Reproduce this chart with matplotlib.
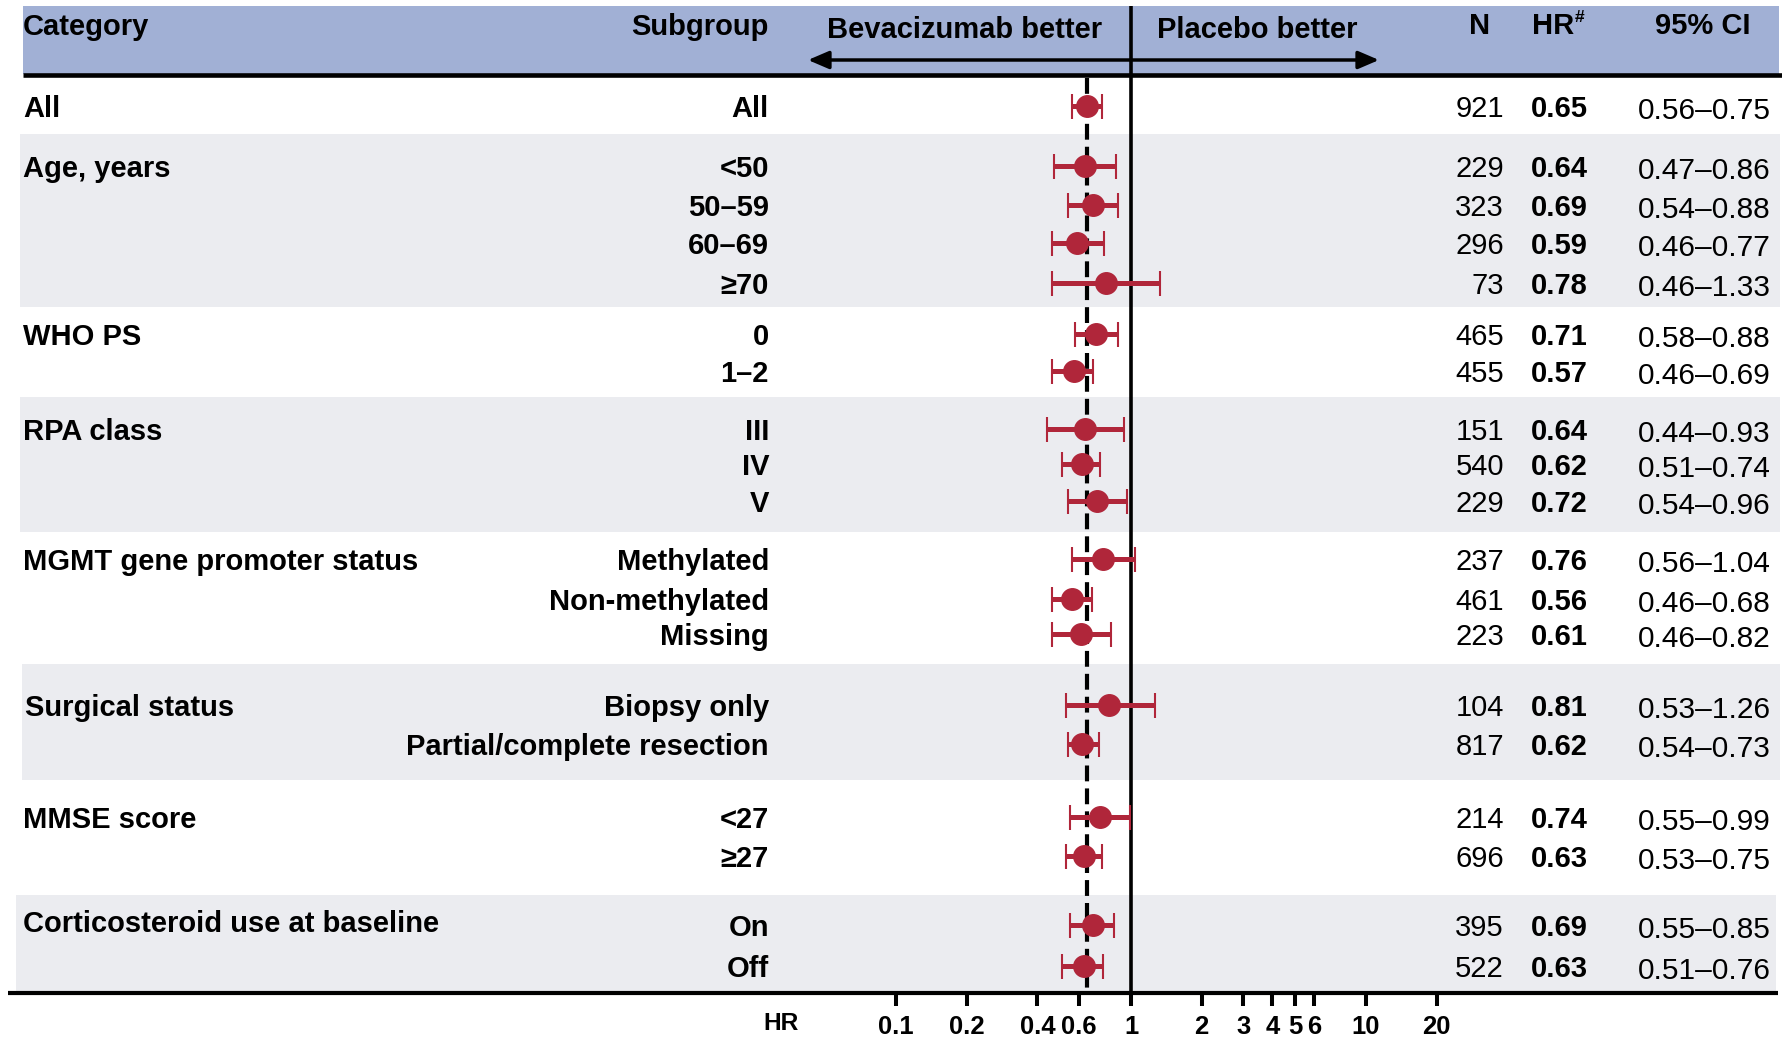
import matplotlib
matplotlib.use('Agg')

import numpy as np
from matplotlib import pyplot as plt
from matplotlib import font_manager
from matplotlib.patches import Rectangle

# subgroup results (hazard ratio with 95% CI)
categories = ['All', 'Age, years', 'WHO PS', 'RPA class', 'MGMT gene promoter status',
              'Surgical status', 'MMSE score', 'Corticosteroid use at baseline']
group_sizes = [1, 4, 2, 3, 3, 2, 2, 2]
subgroups = ['All', '<50', '50–59', '60–69', '≥70', '0', '1–2', 'III', 'IV', 'V',
             'Methylated', 'Non-methylated', 'Missing', 'Biopsy only',
             'Partial/complete resection', '<27', '≥27', 'On', 'Off']
n_patients = [921, 229, 323, 296, 73, 465, 455, 151, 540, 229, 237, 461, 223,
              104, 817, 214, 696, 395, 522]
hr = [0.65, 0.64, 0.69, 0.59, 0.78, 0.71, 0.57, 0.64, 0.62, 0.72, 0.76, 0.56,
      0.61, 0.81, 0.62, 0.74, 0.63, 0.69, 0.63]
ci_low = [0.56, 0.47, 0.54, 0.46, 0.46, 0.58, 0.46, 0.44, 0.51, 0.54, 0.56, 0.46,
          0.46, 0.53, 0.54, 0.55, 0.53, 0.55, 0.51]
ci_high = [0.75, 0.86, 0.88, 0.77, 1.33, 0.88, 0.69, 0.93, 0.74, 0.96, 1.04, 0.68,
           0.82, 1.26, 0.73, 0.99, 0.75, 0.85, 0.76]
hr_ticks = [0.1, 0.2, 0.4, 0.6, 1, 2, 3, 4, 5, 6, 10, 20]
hr_tick_labels = ['0.1', '0.2', '0.4', '0.6', '1', '2', '3', '4', '5', '6', '10', '20']
narrow_groups = ['All', 'WHO PS', 'RPA class', 'MGMT gene promoter status']

# layout in pixels (figure is 1782 x 1037 at 100 dpi)
W, H = 1782, 1037
row_y = [106, 166, 205, 243, 283, 334, 371, 429, 464, 501, 559, 599, 634,
         705, 744, 817, 856, 925, 966]
gray_bands = [(134, 307, 20, 1780), (397, 532, 20, 1780),
              (664, 780, 22, 1780), (895, 993, 16, 1776)]
AXIS_Y = 993
X_ONE = 1131          # pixel of HR = 1
PX_DECADE = 235       # pixels per log decade
FX_LEFT, FX_RIGHT = 808, 1480
TXT_DY = 3            # text sits a little below the marker centre

RED = '#b0263a'
HEAD_BG = '#a1b0d5'
BAND_BG = '#ebecf0'


def has_font(name):
    try:
        font_manager.findfont(font_manager.FontProperties(family=name),
                              fallback_to_default=False)
        return True
    except ValueError:
        return False


REG = 'Liberation Sans' if has_font('Liberation Sans') else 'DejaVu Sans'
if has_font('Liberation Sans Narrow'):
    NARROW, NSCALE = 'Liberation Sans Narrow', 1.0
else:
    NARROW, NSCALE = REG, 0.84

plt.rcParams['font.family'] = [REG, 'DejaVu Sans']


def narrow_text(ax, x, y, s, size, **kw):
    ax.text(x, y, s, fontsize=size * NSCALE, family=[NARROW, 'DejaVu Sans'],
            fontweight='bold', **kw)


fig = plt.figure(figsize=(W / 100, H / 100), dpi=100)
ax = fig.add_axes([0, 0, 1, 1])
ax.set_xlim(0, W)
ax.set_ylim(H, 0)
ax.axis('off')

# header band and row shading
ax.add_patch(Rectangle((23, 6), 1756, 68, color=HEAD_BG, lw=0, zorder=0))
for top, bot, left, right in gray_bands:
    ax.add_patch(Rectangle((left, top), right - left, bot - top, color=BAND_BG,
                           lw=0, zorder=0))
ax.plot([23, 1782], [75, 75], color='black', lw=3.3, solid_capstyle='butt')
ax.plot([8, 1778], [AXIS_Y, AXIS_Y], color='black', lw=3.0, solid_capstyle='butt')

# header texts
narrow_text(ax, 23, 27, 'Category', 25, ha='left', va='center')
narrow_text(ax, 769, 27, 'Subgroup', 25, ha='right', va='center')
narrow_text(ax, 965, 30, 'Bevacizumab better', 25, ha='center', va='center')
narrow_text(ax, 1257, 30, 'Placebo better', 25, ha='center', va='center')
narrow_text(ax, 1480, 26, 'N', 25, ha='center', va='center')
narrow_text(ax, 1574, 26, 'HR', 25, ha='right', va='center')
narrow_text(ax, 1575, 18, '#', 15, ha='left', va='center')
narrow_text(ax, 1703, 26, '95% CI', 25, ha='center', va='center')
narrow_text(ax, 781, 1024, 'HR', 21, ha='center', va='center')

arrow = dict(arrowstyle='-|>,head_length=0.7,head_width=0.3', lw=2.5,
             color='black', shrinkA=0, shrinkB=0, mutation_scale=18)
ax.annotate('', xy=(808, 60), xytext=(X_ONE, 60), arrowprops=arrow)
ax.annotate('', xy=(1379, 60), xytext=(X_ONE, 60), arrowprops=arrow)

# category and subgroup labels, table columns
starts = np.cumsum([0] + group_sizes[:-1])
row_narrow = []
for cat, start, size in zip(categories, starts, group_sizes):
    is_narrow = cat in narrow_groups
    row_narrow += [is_narrow] * size
    y = row_y[start] + TXT_DY - (4 if cat.startswith('Cortico') else 0)
    x = 25 if cat == 'Surgical status' else 23
    if is_narrow:
        narrow_text(ax, x, y, cat, 25, ha='left', va='center')
    else:
        ax.text(x, y, cat, fontsize=21, fontweight='bold', ha='left', va='center')

for i, y in enumerate(row_y):
    ty = y + TXT_DY
    if row_narrow[i]:
        narrow_text(ax, 769, ty, subgroups[i], 25, ha='right', va='center')
    else:
        ax.text(769, ty, subgroups[i], fontsize=21, fontweight='bold',
                ha='right', va='center')
    ax.text(1504, ty, str(n_patients[i]), fontsize=21, ha='right', va='center')
    ax.text(1531, ty, f'{hr[i]:.2f}', fontsize=21, fontweight='bold',
            ha='left', va='center')
    ax.text(1638, ty + 2, f'{ci_low[i]:.2f}–{ci_high[i]:.2f}', fontsize=21.5,
            ha='left', va='center')

# forest panel on a log HR scale
fx = fig.add_axes([FX_LEFT / W, (H - AXIS_Y) / H, (FX_RIGHT - FX_LEFT) / W,
                   (AXIS_Y - 6) / H])
fx.patch.set_alpha(0)
fx.set_xscale('log')
fx.set_xlim(10 ** ((FX_LEFT - X_ONE) / PX_DECADE), 10 ** ((FX_RIGHT - X_ONE) / PX_DECADE))
fx.set_ylim(AXIS_Y, 6)
for sp in fx.spines.values():
    sp.set_visible(False)
fx.set_yticks([])
fx.set_xticks(hr_ticks)
fx.set_xticklabels(hr_tick_labels)
fx.minorticks_off()
fx.tick_params(axis='x', direction='out', length=9, width=2.9, pad=7,
               labelsize=22 * NSCALE)
for lab in fx.get_xticklabels():
    lab.set_family([NARROW, 'DejaVu Sans'])
    lab.set_fontweight('bold')

fx.axvline(1, color='black', lw=2.6, zorder=2)
fx.vlines(hr[0], 78, AXIS_Y, color='black', lw=3.0,
          linestyles=[(0, (3.8, 1.7))], zorder=2)

hr_arr = np.array(hr)
xerr = [hr_arr - np.array(ci_low), np.array(ci_high) - hr_arr]
fx.errorbar(hr_arr, row_y, xerr=xerr, fmt='o', color=RED, ms=15.5,
            elinewidth=3.6, capsize=9, capthick=1.5, zorder=3)

fig.savefig('out.png', dpi=100)
plt.close(fig)
